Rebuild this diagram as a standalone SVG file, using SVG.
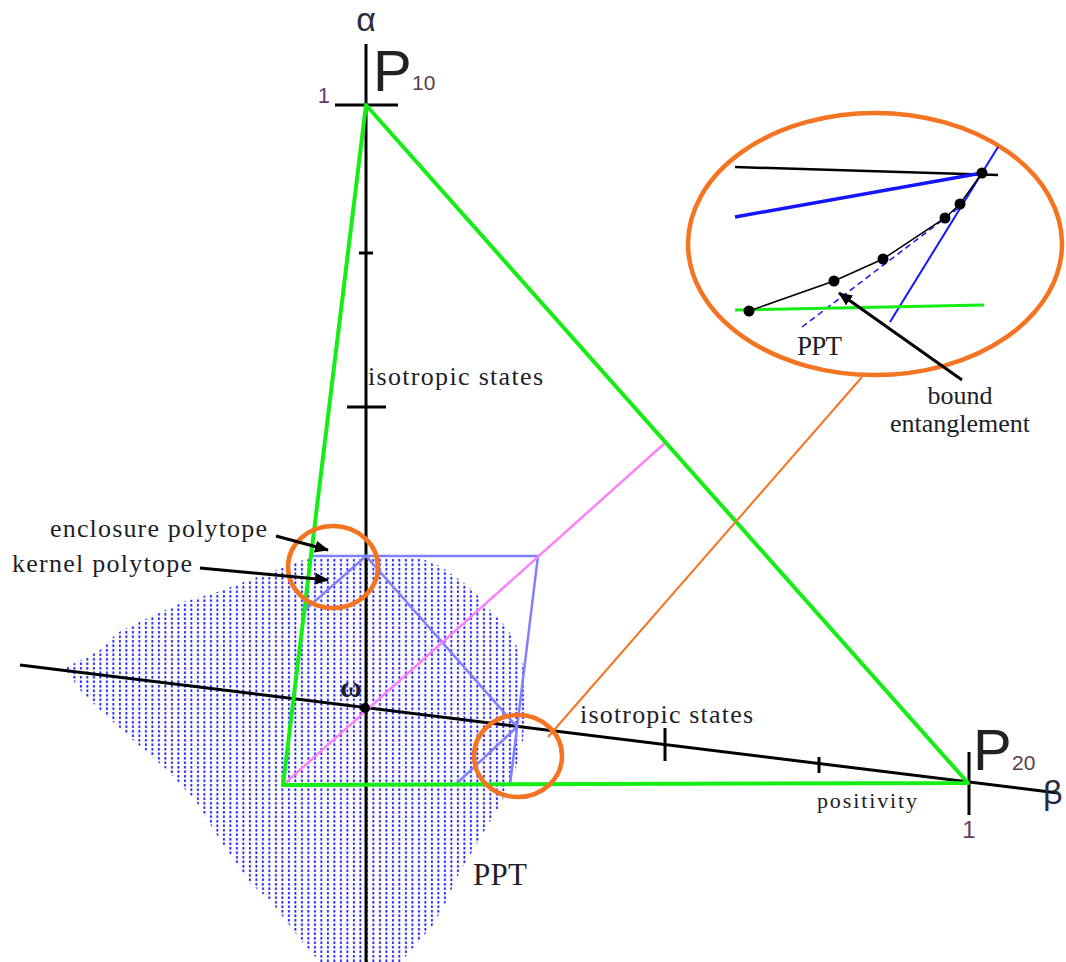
<svg xmlns="http://www.w3.org/2000/svg" width="1066" height="962" viewBox="0 0 1066 962">
<style>
.serif{font-family:"Liberation Serif","Times New Roman",serif;fill:#1e1e28}
.sans{font-family:"Liberation Sans",Arial,sans-serif}
.axis{stroke:#000;stroke-width:3;fill:none}
.green{stroke:#14ee14;stroke-width:4;fill:none;stroke-linecap:round}
.lblue{stroke:#8080ff;stroke-width:2.5;fill:none}
.orange{stroke:#f47421;stroke-width:4.5;fill:none}
.arrow{stroke:#000;stroke-width:3;fill:none;marker-end:url(#ah)}
</style>
<defs>
<pattern id="dots" width="6.5" height="4.5" patternUnits="userSpaceOnUse">
<rect x="2" y="1" width="1.8" height="2.5" fill="#1010ff"/>
</pattern>
<marker id="ah" markerWidth="14" markerHeight="12" refX="13" refY="6" orient="auto" markerUnits="userSpaceOnUse" viewBox="0 0 14 12">
<path d="M0,0 L14,6 L0,12 Z" fill="#000"/>
</marker>
</defs>
<rect width="1066" height="962" fill="#fff"/>

<g id="ppt-region">
<path fill="url(#dots)" d="M65,668 L100,650 L117,633 L150,617 L183,602 L217,592 L260,576 L300,561 L312,558 L420,558 L440,566 L460,580 L473,590 L487,607 L500,620 L513,637 L522,660 L526,700 L523,740 L514,775 L500,805 L483,833 L473,850 L457,877 L447,900 L433,925 L420,940 L407,955 L400,962 L320,962 L303,943 L283,917 L270,900 L250,883 L220,840 L195,800 L167,770 L133,740 L100,710 L80,690 Z"/>
</g>

<g id="connectors">
<line class="axis" x1="366" y1="44" x2="366" y2="962"/>
<line class="axis" x1="20" y1="665" x2="1058" y2="793"/>
<line class="axis" x1="335" y1="105" x2="398" y2="105"/>
<line class="axis" x1="359" y1="253" x2="373" y2="253"/>
<line class="axis" x1="347" y1="407" x2="386" y2="407"/>
<line class="axis" x1="665" y1="728" x2="665" y2="761"/>
<line class="axis" x1="819" y1="757" x2="819" y2="773"/>
<line class="axis" x1="969" y1="752" x2="969" y2="815"/>
<polyline class="lblue" points="311,556 538,556 510,785"/>
<polyline class="lblue" points="305,610 366,556 517,727 455,785"/>
<line x1="283" y1="785" x2="665" y2="443" stroke="#ff80ff" stroke-width="2.5"/>
<polygon class="green" points="366,105 968,783 283,785" stroke-linejoin="round"/>
<circle cx="365" cy="708" r="5" fill="#000"/>
<ellipse class="orange" cx="333" cy="567" rx="45" ry="41"/>
<ellipse class="orange" cx="518" cy="756" rx="44" ry="41"/>
<line x1="548" y1="737" x2="862" y2="377" stroke="#f47421" stroke-width="2"/>
<line class="arrow" x1="276" y1="536" x2="328" y2="550"/>
<line class="arrow" x1="200" y1="568" x2="328" y2="580"/>
</g>

<g id="inset">
<ellipse class="orange" cx="875" cy="244" rx="187" ry="131"/>
<line x1="735" y1="167" x2="998" y2="175" stroke="#000" stroke-width="2.5"/>
<line x1="735" y1="217" x2="982" y2="173" stroke="#1414ff" stroke-width="3.5"/>
<line x1="890" y1="322" x2="998" y2="147" stroke="#1414ff" stroke-width="2"/>
<line x1="802" y1="327" x2="965" y2="203" stroke="#1414ff" stroke-width="1.5" stroke-dasharray="6,4"/>
<line x1="735" y1="310" x2="984" y2="305" stroke="#14ee14" stroke-width="3"/>
<polyline points="749,311 834,281 883,259 945,218 960,204 982,173" fill="none" stroke="#000" stroke-width="1.5"/>
<g fill="#000">
<circle cx="749" cy="311" r="5.5"/>
<circle cx="834" cy="281" r="5.5"/>
<circle cx="883" cy="259" r="5.5"/>
<circle cx="945" cy="218" r="5.5"/>
<circle cx="960" cy="204" r="5.5"/>
<circle cx="982" cy="173" r="5.5"/>
</g>
<line class="arrow" x1="962" y1="380" x2="839" y2="293"/>
<text class="serif" x="797" y="355" font-size="27" textLength="45">PPT</text>
<text class="serif" x="960" y="404" font-size="26" text-anchor="middle">bound</text>
<text class="serif" x="960" y="432" font-size="26" text-anchor="middle">entanglement</text>
</g>

<g id="labels">
<text class="sans" x="366" y="31" font-size="34" text-anchor="middle" fill="#2a2a40">α</text>
<text class="sans" x="373" y="91" font-size="58" fill="#222">P</text>
<text class="sans" x="412" y="90" font-size="21" fill="#5b3b4b">10</text>
<text class="sans" x="330" y="103" font-size="22" text-anchor="end" fill="#6a3a6a">1</text>
<text class="sans" x="973" y="770" font-size="58" fill="#222">P</text>
<text class="sans" x="1012" y="770" font-size="21" fill="#5b3b4b">20</text>
<text class="sans" x="1043" y="804" font-size="34" fill="#2a2a40">β</text>
<text class="sans" x="969" y="838" font-size="24" text-anchor="middle" fill="#6a3a6a">1</text>
<text class="serif" x="351" y="697" font-size="30" text-anchor="middle" font-weight="bold">ω</text>
<text class="serif" x="368" y="385" font-size="26" textLength="175">isotropic  states</text>
<text class="serif" x="580" y="723" font-size="26" textLength="173">isotropic  states</text>
<text class="serif" x="817" y="808" font-size="22" textLength="100" fill="#333">positivity</text>
<text class="serif" x="50" y="537" font-size="26" textLength="217">enclosure polytope</text>
<text class="serif" x="12" y="572" font-size="26" textLength="180">kernel polytope</text>
<text class="serif" x="473" y="885" font-size="31" textLength="54">PPT</text>
</g>
</svg>
